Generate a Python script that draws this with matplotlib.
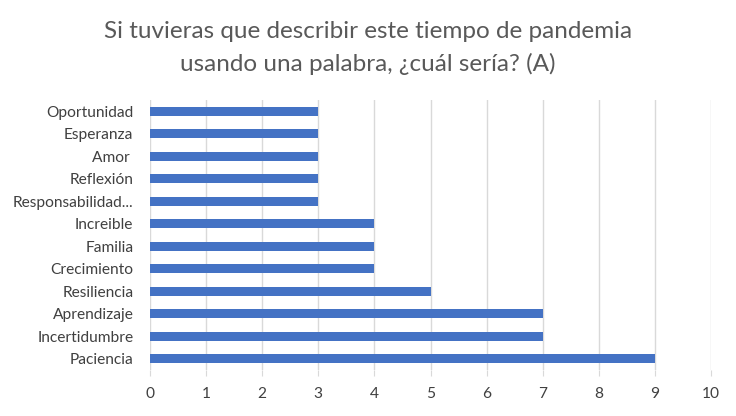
import matplotlib
matplotlib.use("Agg")
import matplotlib.pyplot as plt

categories = ["Paciencia", "Incertidumbre", "Aprendizaje", "Resiliencia", "Crecimiento",
              "Familia", "Increible", "Responsabilidad...", "Reflexión", "Amor ",
              "Esperanza", "Oportunidad"]
values = [9, 7, 7, 5, 4, 4, 4, 3, 3, 3, 3, 3]
xticks = list(range(0, 11))

plt.rcParams['font.family'] = ['Lato', 'DejaVu Sans']

fig = plt.figure(figsize=(7.36, 4.16), dpi=100)
ax = fig.add_axes([150/736, 1 - 370/416, (711 - 150)/736, (370 - 100)/416])

ax.barh(range(len(categories)), values, height=0.42, color="#4472C4", zorder=3)
ax.set_xlim(0, 10)
ax.set_ylim(-0.5, len(categories) - 0.5)
ax.set_yticks(range(len(categories)))
ax.set_yticklabels(categories, fontsize=11.2, color="#404040")
ax.set_xticks(xticks)
ax.set_xticklabels([str(t) for t in xticks], fontsize=11.2, color="#404040")
ax.grid(axis="x", color="#D9D9D9", linewidth=1, zorder=0)
for s in ax.spines.values():
    s.set_visible(False)
ax.tick_params(axis="y", length=0, pad=12)
ax.tick_params(axis="x", length=4, color="#D9D9D9", pad=8)

fig.text(0.5, 1 - 32/416, "Si tuvieras que describir este tiempo de pandemia",
         ha="center", va="center", fontsize=17.5, color="#595959")
fig.text(0.5, 1 - 64/416, "usando una palabra, ¿cuál sería? (A)",
         ha="center", va="center", fontsize=17.5, color="#595959")

fig.savefig("out.png", dpi=100, facecolor="white")
